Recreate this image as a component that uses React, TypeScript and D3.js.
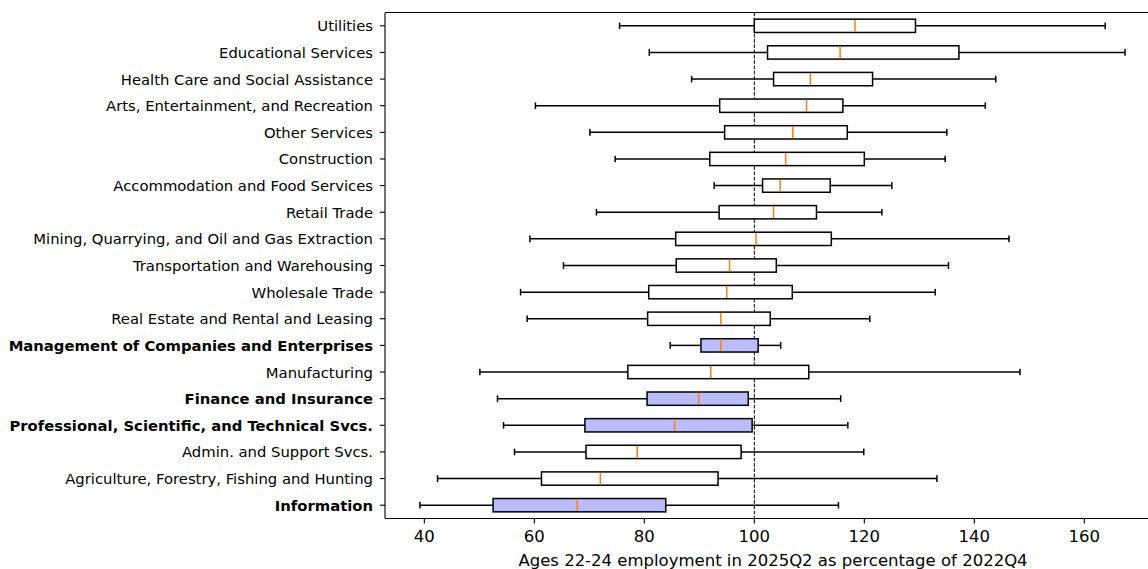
import React from "react";
import * as d3 from "d3";

// Industries, listed top to bottom
const categories = [
  "Utilities",
  "Educational Services",
  "Health Care and Social Assistance",
  "Arts, Entertainment, and Recreation",
  "Other Services",
  "Construction",
  "Accommodation and Food Services",
  "Retail Trade",
  "Mining, Quarrying, and Oil and Gas Extraction",
  "Transportation and Warehousing",
  "Wholesale Trade",
  "Real Estate and Rental and Leasing",
  "Management of Companies and Enterprises",
  "Manufacturing",
  "Finance and Insurance",
  "Professional, Scientific, and Technical Svcs.",
  "Admin. and Support Svcs.",
  "Agriculture, Forestry, Fishing and Hunting",
  "Information",
];

const whiskerLow = [75.5, 80.9, 88.6, 60.2, 70.1, 74.7, 92.7, 71.3, 59.2, 65.3, 57.5, 58.7, 84.7, 50.1, 53.3, 54.4, 56.4, 42.4, 39.2];
const q1 = [100.0, 102.4, 103.5, 93.7, 94.6, 91.9, 101.5, 93.6, 85.7, 85.8, 80.8, 80.6, 90.3, 77.0, 80.5, 69.2, 69.4, 61.3, 52.5];
const medians = [118.3, 115.6, 110.2, 109.5, 107.0, 105.7, 104.7, 103.5, 100.3, 95.5, 95.0, 93.9, 93.9, 92.1, 89.9, 85.5, 78.7, 72.0, 67.8];
const q3 = [129.3, 137.2, 121.5, 116.1, 116.9, 120.0, 113.8, 111.3, 114.0, 104.0, 106.9, 102.9, 100.7, 109.9, 98.9, 99.6, 97.6, 93.4, 83.9];
const whiskerHigh = [163.8, 167.4, 143.9, 142.0, 135.0, 134.7, 125.0, 123.2, 146.3, 135.3, 132.9, 121.0, 104.8, 148.3, 115.7, 117.0, 119.9, 133.2, 115.3];

// Industries drawn in bold with a shaded box
const highlighted = [
  "Management of Companies and Enterprises",
  "Finance and Insurance",
  "Professional, Scientific, and Technical Svcs.",
  "Information",
];

const xTicks = [40, 60, 80, 100, 120, 140, 160];
const referenceValue = 100;
const xLabel = "Ages 22-24 employment in 2025Q2 as percentage of 2022Q4";

const W = 1148;
const H = 569;
const plotLeft = 385;
const plotTop = 12.5;
const plotBottom = 518.5;
const font = "'DejaVu Sans', sans-serif";

export default function App() {
  const n = categories.length;
  const x = d3.scaleLinear().domain([32.85, 173]).range([plotLeft, plotLeft + 140.15 * 5.5]);
  const y = d3.scaleLinear().domain([0.5, n + 0.5]).range([plotBottom, plotTop]);
  const pos = (i: number) => n - i;
  const boxH = y(0) - y(0.5);
  const capH = y(0) - y(0.25);
  const plotRight = x.range()[1];
  const sw = 1.5;

  return (
    <div style={{ position: "absolute", left: 0, top: 0 }}>
      <svg width={W} height={H} style={{ display: "block", background: "#fff" }} fontFamily={font}>
        {/* reference line at 100 */}
        <line
          x1={x(referenceValue)}
          x2={x(referenceValue)}
          y1={plotTop}
          y2={plotBottom}
          stroke="#000"
          strokeWidth={1}
          strokeDasharray="3.7,1.6"
        />

        {categories.map((c, i) => {
          const cy = y(pos(i));
          const hl = highlighted.includes(c);
          return (
            <g key={c}>
              <line x1={x(whiskerLow[i])} x2={x(q1[i])} y1={cy} y2={cy} stroke="#000" strokeWidth={sw} />
              <line x1={x(q3[i])} x2={x(whiskerHigh[i])} y1={cy} y2={cy} stroke="#000" strokeWidth={sw} />
              <line x1={x(whiskerLow[i])} x2={x(whiskerLow[i])} y1={cy - capH / 2} y2={cy + capH / 2} stroke="#000" strokeWidth={sw} />
              <line x1={x(whiskerHigh[i])} x2={x(whiskerHigh[i])} y1={cy - capH / 2} y2={cy + capH / 2} stroke="#000" strokeWidth={sw} />
              <rect
                x={x(q1[i])}
                y={cy - boxH / 2}
                width={x(q3[i]) - x(q1[i])}
                height={boxH}
                fill={hl ? "#bbbbff" : "#fff"}
                stroke="#000"
                strokeWidth={sw}
              />
              <line x1={x(medians[i])} x2={x(medians[i])} y1={cy - boxH / 2 + 0.75} y2={cy + boxH / 2 - 0.75} stroke="#ff7f0e" strokeWidth={sw} />
              {/* y tick and label */}
              <line x1={plotLeft - 5} x2={plotLeft} y1={cy} y2={cy} stroke="#000" strokeWidth={1.1} />
              <text
                x={plotLeft - 12}
                y={cy}
                textAnchor="end"
                dominantBaseline="central"
                fontSize={14.8}
                fontWeight={hl ? "bold" : "normal"}
                fill="#000"
              >
                {c}
              </text>
            </g>
          );
        })}

        {/* x ticks */}
        {xTicks.map((t) => (
          <g key={t}>
            <line x1={x(t)} x2={x(t)} y1={plotBottom} y2={plotBottom + 5} stroke="#000" strokeWidth={1.1} />
            <text x={x(t)} y={plotBottom + 18} textAnchor="middle" dominantBaseline="central" fontSize={16.5} fill="#000">
              {t}
            </text>
          </g>
        ))}
        <text x={773} y={560} textAnchor="middle" dominantBaseline="central" fontSize={16.5} fill="#000">
          {xLabel}
        </text>

        {/* spines */}
        <line x1={plotLeft} x2={plotLeft} y1={plotTop} y2={plotBottom} stroke="#000" strokeWidth={1.1} />
        <line x1={plotLeft} x2={plotRight} y1={plotTop} y2={plotTop} stroke="#000" strokeWidth={1.1} />
        <line x1={plotLeft} x2={plotRight} y1={plotBottom} y2={plotBottom} stroke="#000" strokeWidth={1.1} />
        <line x1={plotRight} x2={plotRight} y1={plotTop} y2={plotBottom} stroke="#000" strokeWidth={1.1} />
      </svg>
    </div>
  );
}
